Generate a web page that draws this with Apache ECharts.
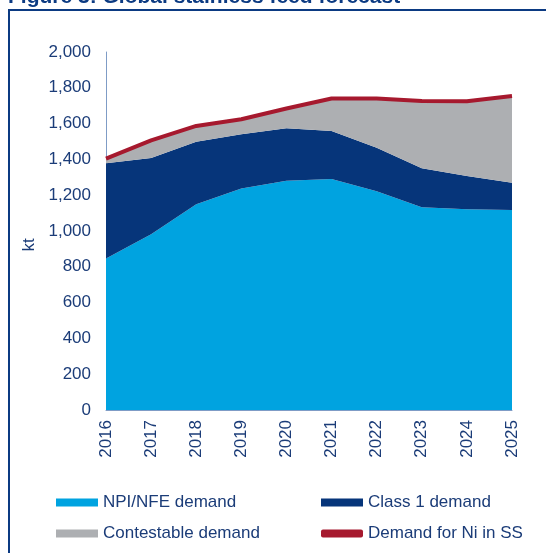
<!DOCTYPE html>
<html>
<head>
<meta charset="utf-8">
<script src="https://cdn.jsdelivr.net/npm/echarts@6/dist/echarts.min.js"></script>
<style>
  html, body { margin: 0; padding: 0; background: #fff; }
  #chart { width: 546px; height: 553px; }
</style>
</head>
<body>
<div id="chart"></div>
<script>
  var years = ['2016', '2017', '2018', '2019', '2020', '2021', '2022', '2023', '2024', '2025'];
  // kt
  var npiNfe = [847, 982, 1150, 1238, 1281, 1291, 1222, 1132, 1121, 1117];
  var class1 = [531, 426, 349, 302, 293, 268, 243, 218, 186, 153];
  var contestable = [20, 92, 84, 80, 106, 177, 271, 372, 414, 480];
  var niInSS = [1404, 1506, 1587, 1624, 1684, 1740, 1740, 1726, 1725, 1754];

  var textBlue = '#1B3C78';
  var chart = echarts.init(document.getElementById('chart'));

  chart.setOption({
    animation: false,
    textStyle: { fontFamily: 'Liberation Sans, Arial, sans-serif' },
    graphic: [
      {
        type: 'text', x: 8, y: -3,
        style: {
          text: 'Figure 3: Global stainless feed forecast', fill: '#0B3A82',
          font: 'bold 21px Liberation Sans', verticalAlign: 'middle'
        }
      },
      {
        type: 'text', x: 29, y: 245, rotation: Math.PI / 2,
        style: {
          text: 'kt', fill: textBlue, font: '17px Liberation Sans',
          align: 'center', verticalAlign: 'middle'
        }
      },
      {
        type: 'polyline', silent: true,
        shape: { points: [[9, 553], [9, 10], [546, 10]] },
        style: { stroke: '#0B3A82', lineWidth: 2, fill: null }
      }
    ],
    grid: { left: 106, right: 34, top: 52, bottom: 143 },
    legend: [
      {
        left: 51, top: 488, orient: 'vertical', itemGap: 12,
        itemWidth: 42, itemHeight: 8,
        textStyle: { color: textBlue, fontSize: 17, lineHeight: 19 },
        data: [
          { name: 'NPI/NFE demand', icon: 'rect' },
          { name: 'Contestable demand', icon: 'rect' }
        ]
      },
      {
        left: 316, top: 488, orient: 'vertical', itemGap: 12,
        itemWidth: 42, itemHeight: 8,
        textStyle: { color: textBlue, fontSize: 17, lineHeight: 19 },
        data: [
          { name: 'Class 1 demand', icon: 'rect' },
          { name: 'Demand for Ni in SS', icon: 'roundRect', itemStyle: { color: '#A6192E' } }
        ]
      }
    ],
    xAxis: {
      type: 'category',
      data: years,
      boundaryGap: false,
      axisLine: { lineStyle: { color: '#7F9CC6' } },
      axisTick: { show: false },
      axisLabel: { rotate: 90, color: textBlue, fontSize: 17, margin: 10 }
    },
    yAxis: {
      type: 'value',
      min: 0, max: 2000, interval: 200,
      axisLine: { show: true, lineStyle: { color: '#7F9CC6' } },
      axisTick: { show: false },
      splitLine: { show: false },
      axisLabel: {
        color: textBlue, fontSize: 17, margin: 15,
        formatter: function (v) { return v.toLocaleString('en-US'); }
      }
    },
    series: [
      {
        name: 'NPI/NFE demand', type: 'line', stack: 'total', data: npiNfe,
        symbol: 'none', lineStyle: { width: 0 },
        itemStyle: { color: '#00A3E0' }, areaStyle: { color: '#00A3E0', opacity: 1 }
      },
      {
        name: 'Class 1 demand', type: 'line', stack: 'total', data: class1,
        symbol: 'none', lineStyle: { width: 0 },
        itemStyle: { color: '#06357A' }, areaStyle: { color: '#06357A', opacity: 1 }
      },
      {
        name: 'Contestable demand', type: 'line', stack: 'total', data: contestable,
        symbol: 'none', lineStyle: { width: 0 },
        itemStyle: { color: '#ADAFB2' }, areaStyle: { color: '#ADAFB2', opacity: 1 }
      },
      {
        name: 'Demand for Ni in SS', type: 'line', data: niInSS,
        symbol: 'none', lineStyle: { width: 4, color: '#A6192E' },
        itemStyle: { color: '#A6192E' }
      }
    ]
  });
</script>
</body>
</html>
